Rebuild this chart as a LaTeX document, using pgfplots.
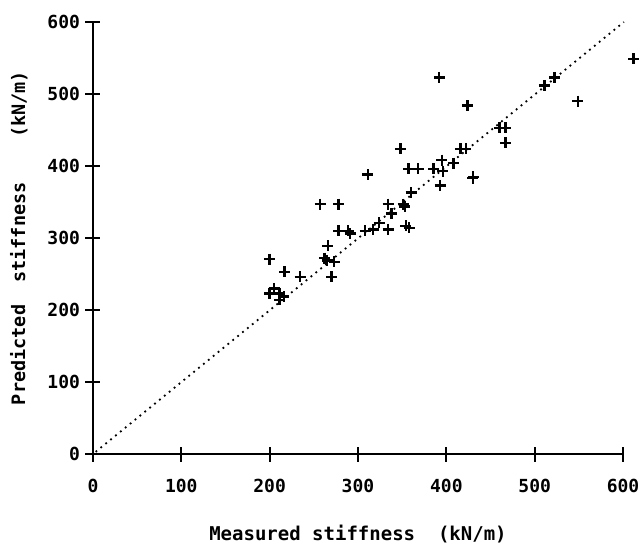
\documentclass[border=0pt]{standalone}
\usepackage{pgfplots}
\pgfplotsset{compat=1.18}
\usepackage{fontspec}
\setmainfont{DejaVu Sans Mono}
\begin{document}
\begin{tikzpicture}
\useasboundingbox (-93pt,-92pt) rectangle (549pt,454pt);
\begin{axis}[
  at={(0,0)}, anchor=south west,
  scale only axis, width=530pt, height=432pt,
  xmin=0, xmax=600, ymin=0, ymax=600,
  axis lines=left,
  axis line style={line width=2.4pt,-},
  xtick={0,100,...,600}, ytick={0,100,...,600},
  tick align=center,
  major tick length=15pt,
  tick style={draw=black, line width=2pt},
  tick label style={font=\fontsize{18}{20}\selectfont\bfseries},
  /pgf/number format/assume math mode=true,
  xticklabel style={yshift=-14pt},
  yticklabel style={xshift=-2pt},
  xlabel={Measured stiffness\ \ (kN/m)},
  ylabel={Predicted\ \ stiffness\ \ \ \ (kN/m)},
  xlabel style={font=\fontsize{19}{21}\selectfont\bfseries, yshift=-26pt},
  ylabel style={font=\fontsize{18.5}{21}\selectfont\bfseries, yshift=13pt},
  clip=false,
]
\addplot[line width=1.8pt, dash pattern=on 1.8pt off 4.5pt] coordinates {(3,3) (601,600)};
\addplot[only marks, mark=+, mark size=5.5pt, mark options={line width=2.4pt}] coordinates {
(199.7,270.5) (200,223) (205,230) (211,223) (211,214) (216,219) (217,253)
(234.5,246) (257,347) (266,289) (262,272) (265,269) (273,267) (270,246)
(278,347) (278,310) (289,310) (291,306) (308,310) (311,388) (317,312)
(324,321) (334,347) (334,312) (338,334) (348,424) (351,347) (353,344)
(354,317) (358,314) (360,363) (357,396) (368,396) (385.5,396) (392,523)
(393,373) (395,408) (396,393) (408,404) (416,424) (422,424) (424,484)
(430,383) (430.5,385) (460,453) (467,453) (467,432) (511,512) (522.5,523)
(549,490) (612,549)
};
\end{axis}
\end{tikzpicture}
\end{document}
